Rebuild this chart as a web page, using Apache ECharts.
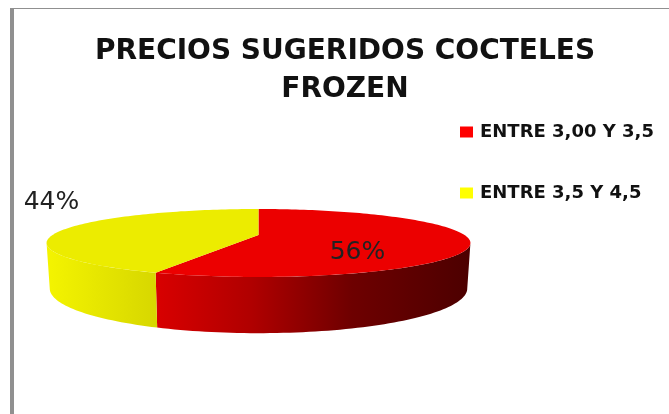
<!DOCTYPE html>
<html>
<head>
<meta charset="utf-8">
<style>html,body{margin:0;padding:0;background:#fff}#cn{width:669px;height:414px}</style>
<script src="https://cdn.jsdelivr.net/npm/echarts@6/dist/echarts.min.js"></script>
</head>
<body>
<div id="cn"></div>
<script>
'use strict';

const arrName = ['ENTRE 3,00 Y 3,5', 'ENTRE 3,5 Y 4,5'];
const arrValue = [56.4, 43.6]; // labels read 56% / 44%, the cut sits a little past 56
const arrLegendColor = ['#ff0000', '#ffff00'];
const arrTopColor = ['#ec0000', '#ecec00'];

const total = arrValue.reduce((a, b) => a + b, 0);

// excel style 3d disc, perspective squashes the back half
const cx = 258.5, cy = 235, rx = 206, ry = 32.1, persp = 0.235, depth = 43;
const edge = Math.acos(-persp); // where the rim turns away from the viewer
const arrEdge = [edge, Math.PI * 2 - edge];

function project(a, r, isBottom) {
    const u = Math.sin(a) * r;
    const v = -Math.cos(a) * r;
    const w = 1 - persp * v;
    if (isBottom) {
        return [cx + rx * 0.985 * u / w, cy + ry * v / w + depth / w];
    }
    return [cx + rx * u / w, cy + ry * v / w];
}

function rim(a0, a1, isBottom) {
    const pts = [];
    const n = Math.max(2, Math.ceil(Math.abs(a1 - a0) * 40));
    for (let i = 0; i <= n; i++) {
        pts.push(project(a0 + (a1 - a0) * i / n, 1, isBottom));
    }
    return pts;
}

const wallFill = [
    new echarts.graphic.LinearGradient(157, 0, 471, 0, [
        { offset: 0, color: '#d80000' },
        { offset: 0.3, color: '#b00000' },
        { offset: 0.62, color: '#6e0000' },
        { offset: 1, color: '#4c0000' }
    ], true),
    new echarts.graphic.LinearGradient(47, 0, 160, 0, [
        { offset: 0, color: '#f4f400' },
        { offset: 1, color: '#d6d600' }
    ], true)
];

const labelPos = [[357.5, 252], [51.5, 202]];

function slice(idx) {
    return function(params, api) {
        let sum = 0;
        for (let i = 0; i < idx; i++) sum += arrValue[i];
        const a0 = sum / total * Math.PI * 2;
        const a1 = (sum + api.value(0)) / total * Math.PI * 2;

        const top = [project(0, 0, false)].concat(rim(a0, a1, false));
        const children = [];

        const w0 = Math.max(a0, arrEdge[0]);
        const w1 = Math.min(a1, arrEdge[1]);
        if (w1 > w0) {
            children.push({
                type: 'polygon',
                shape: { points: rim(w0, w1, false).concat(rim(w1, w0, true)) },
                style: { fill: wallFill[idx] }
            });
        }
        children.push({
            type: 'polygon',
            shape: { points: top },
            style: { fill: arrTopColor[idx] }
        });
        children.push({
            type: 'text',
            z2: 10,
            style: {
                text: Math.round(api.value(0) / total * 100) + '%',
                x: labelPos[idx][0],
                y: labelPos[idx][1],
                align: 'center',
                verticalAlign: 'middle',
                fill: '#222',
                font: '25px "DejaVu Sans"'
            }
        });
        return { type: 'group', children: children };
    };
}

const pieChart = echarts.init(document.getElementById('cn'), null, { renderer: 'canvas' });

pieChart.setOption({
    animation: false,
    backgroundColor: '#fff',
    title: {
        text: 'PRECIOS SUGERIDOS COCTELES\nFROZEN',
        left: 345,
        top: 33,
        padding: 0,
        textAlign: 'center',
        textStyle: {
            fontFamily: 'DejaVu Sans',
            fontWeight: 'bold',
            fontSize: 28,
            lineHeight: 38,
            color: '#111'
        }
    },
    legend: {
        orient: 'vertical',
        left: 460,
        top: 123,
        padding: 0,
        itemGap: 43,
        itemWidth: 13,
        itemHeight: 11,
        icon: 'rect',
        itemStyle: { borderWidth: 0 },
        selectedMode: false,
        data: arrName,
        textStyle: {
            fontFamily: 'DejaVu Sans',
            fontWeight: 'bold',
            fontSize: 18,
            color: '#111',
            padding: [0, 0, 0, 2]
        }
    },
    graphic: [
        { type: 'rect', shape: { x: 10, y: 8, width: 4, height: 406 }, style: { fill: '#909090' } },
        { type: 'rect', shape: { x: 10, y: 8, width: 659, height: 1 }, style: { fill: '#909090' } }
    ],
    series: arrName.map((name, i) => ({
        type: 'custom',
        name: name,
        coordinateSystem: 'none',
        silent: true,
        clip: false,
        itemStyle: { color: arrLegendColor[i] },
        data: [[arrValue[i]]],
        renderItem: slice(i)
    }))
});
</script>
</body>
</html>
